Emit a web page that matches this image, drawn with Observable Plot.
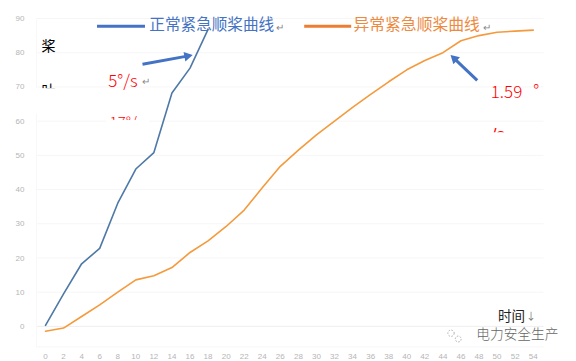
<!DOCTYPE html>
<html><head><meta charset="utf-8">
<script src="https://cdn.jsdelivr.net/npm/d3@7"></script>
<script src="https://cdn.jsdelivr.net/npm/@observablehq/plot@0.6"></script>
<style>html,body{margin:0;padding:0;background:#fff}svg{display:block}</style>
</head><body><div id="c"></div>
<script>
const xTicks = [0,2,4,6,8,10,12,14,16,18,20,22,24,26,28,30,32,34,36,38,40,42,44,46,48,50,52,54];
const yTicks = [0,10,20,30,40,50,60,70,80,90];
const normalT = [0,2,4,6,8,10,12,14,16,18];
const normalV = [0.3,9.5,18.3,22.8,36,46,50.8,68.2,75.5,86.8];
const abnormalT = xTicks;
const abnormalV = [-1.4,-0.5,2.9,6.3,10,13.6,14.8,17.2,21.6,25,29.2,34,40.5,46.8,51.5,56,60,64,67.8,71.5,75,77.7,80,83.5,85,86,86.3,86.6];
const zh = '"Noto Sans CJK SC"';
const lat = "Liberation Sans";
const T = (t,x,y,o)=>Plot.text([t],{x:()=>x,y:()=>y,text:d=>d,textAnchor:"start",lineAnchor:"middle",fontFamily:zh,...o});
const zip=(a,b)=>a.map((t,i)=>({t,v:b[i]}));
const chart = Plot.plot({
  width:576,height:361,margin:0,
  style:{background:"#fff",fontFamily:"Liberation Sans, sans-serif",overflow:"visible"},
  x:{type:"linear",domain:[0,54],range:[45,532.7]},
  y:{type:"linear",domain:[-6,90],range:[346.4,18]},
  marks:[
    Plot.ruleY(yTicks.concat([-6]),{x1:-1,x2:55.2,stroke:d=>d===0?"#eeeeee":"#f6f6f6",strokeWidth:1}),
    Plot.ruleX([-1],{y1:-6,y2:90,stroke:"#f8f8f8"}),
    Plot.axisX({ticks:xTicks,tickSize:0,tickPadding:0,anchor:"bottom",fill:"#b5b5b5",fontSize:8,label:null,dy:-8,marginBottom:0}),
    Plot.axisY({ticks:yTicks,tickSize:0,anchor:"left",textAnchor:"end",fill:"#b5b5b5",fontSize:8,label:null,dx:33,marginLeft:0}),
    T("桨",-0.45,81.7,{fill:"#000",fontSize:14}),
    T("叶",-0.45,68.9,{fill:"#000",fontSize:14}),
    T("5°/s",6.95,71.7,{fill:"#ff0000",fontSize:17,fontFamily:zh,fontWeight:300}),
    T("↵",10.7,71.5,{fill:"#888",fontSize:10}),
    T("17°/s",7.1,59.4,{fill:"#ff0000",fontSize:15,fontFamily:zh,fontWeight:300}),
    T("1.59",49.3,68.5,{fill:"#ff0000",fontSize:17,fontFamily:zh,fontWeight:300}),
    T("°",54.0,68.6,{fill:"#ff0000",fontSize:17,fontFamily:zh,fontWeight:300}),
    T("/s",49.4,56.1,{fill:"#ff0000",fontSize:17,fontFamily:lat}),
    Plot.rect([{a:-1,b:1.3,c:69.5,d:62},{a:6.8,b:11.5,c:60.2,d:53},{a:49,b:53,c:56.6,d:50}],{x1:"a",x2:"b",y1:"c",y2:"d",fill:"#fff"}),
    Plot.line(zip(normalT,normalV),{x:"t",y:"v",stroke:"#4e79a7",strokeWidth:1.6}),
    Plot.line(zip(abnormalT,abnormalV),{x:"t",y:"v",stroke:"#f59a3c",strokeWidth:1.6}),
    Plot.ruleY([87.7],{x1:5.76,x2:11.07,stroke:"#4472c4",strokeWidth:3}),
    Plot.ruleY([87.7],{x1:28.7,x2:33.9,stroke:"#ed7d31",strokeWidth:3}),
    T("正常紧急顺桨曲线",11.5,88,{fill:"#4472c4",fontSize:15.6}),
    T("↵",25.5,87.3,{fill:"#888",fontSize:10}),
    T("异常紧急顺桨曲线",34.1,88,{fill:"#ed8a3f",fontSize:15.8}),
    T("↵",48.4,87.3,{fill:"#888",fontSize:10}),
    Plot.link([{a:10.74,b:76.6,c:15.69,d:79}],{x1:"a",y1:"b",x2:"c",y2:"d",stroke:"#4472c4",strokeWidth:3}),
    Plot.dot([{t:15.69,v:79,rot:79}],{x:"t",y:"v",symbol:"triangle",r:3.6,rotate:"rot",fill:"#4472c4"}),
    Plot.link([{a:47.8,b:71.9,c:45.3,d:78.2}],{x1:"a",y1:"b",x2:"c",y2:"d",stroke:"#4472c4",strokeWidth:3}),
    Plot.dot([{t:45.3,v:78.2,rot:-47}],{x:"t",y:"v",symbol:"triangle",r:3.6,rotate:"rot",fill:"#4472c4"}),
    T("时间",50.1,2.9,{fill:"#222",fontSize:13.5}),
    T("↓",53.2,2.9,{fill:"#777",fontSize:10}),
    Plot.dot([{t:44.9,v:-2,r:7},{t:45.7,v:-3.7,r:6}],{x:"t",y:"v",r:"r",stroke:"#999",strokeDasharray:"1.5 1.5",strokeWidth:.8}),
    T("电力安全生产",47.7,-2.5,{fill:"#666",fontSize:13.7,fontWeight:300})
  ]
});
document.getElementById("c").append(chart);
</script></body></html>
